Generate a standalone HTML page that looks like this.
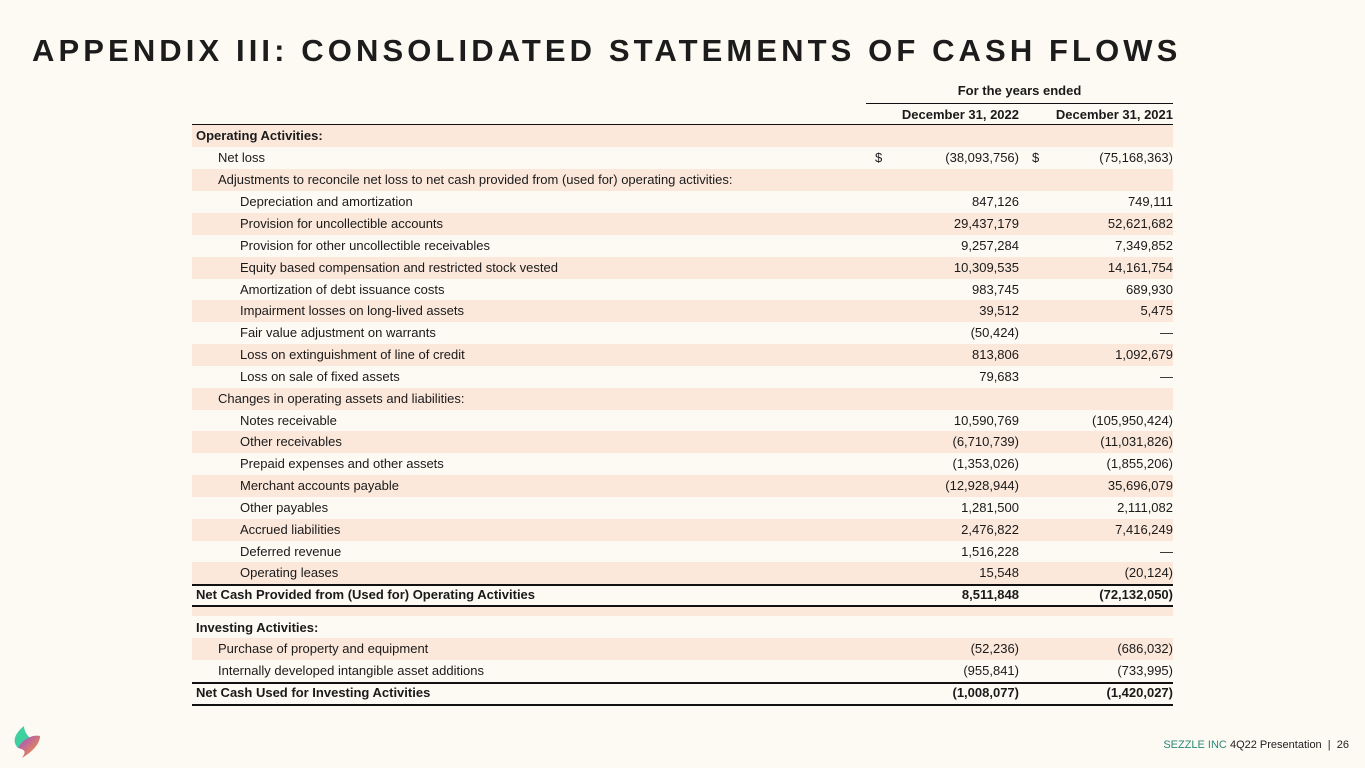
<!DOCTYPE html>
<html><head><meta charset="utf-8"><style>
*{margin:0;padding:0;box-sizing:border-box}
body{width:1365px;height:768px;background:#fdf9f3;font-family:"Liberation Sans",sans-serif;color:#1a1a1a;position:relative;overflow:hidden}
.title{position:absolute;left:32px;top:33px;font-size:31px;font-weight:bold;letter-spacing:4.1px;color:#1c1c1c;white-space:nowrap}
.r{position:absolute;left:192px;width:981px;height:22px;font-size:13px;line-height:22px}
.s{background:#fbe8db}
.r span{position:absolute;top:0}
.l{left:4px}.l1{left:26px}.l2{left:48px}
.a{right:154px}.b{right:0}
.d1{left:683px}.d2{left:840px}
.bold{font-weight:bold}
.line{position:absolute;height:1.5px;background:#111}
</style></head><body>
<div class="title">APPENDIX III: CONSOLIDATED STATEMENTS OF CASH FLOWS</div>
<div style="position:absolute;left:866px;top:83px;width:307px;text-align:center;font-size:13px;font-weight:bold">For the years ended</div>
<div class="line" style="left:866px;top:103px;width:307px;height:1px"></div>
<div style="position:absolute;left:866px;top:107px;width:153px;text-align:right;font-size:13px;font-weight:bold">December 31, 2022</div>
<div style="position:absolute;left:1025px;top:107px;width:148px;text-align:right;font-size:13px;font-weight:bold">December 31, 2021</div>
<div class="line" style="left:192px;top:124px;width:981px;height:1px"></div>

<div class="r s bold" style="top:125px"><span class="l">Operating Activities:</span></div>
<div class="r" style="top:147px"><span class="l1">Net loss</span><span class="d1">$</span><span class="a">(38,093,756)</span><span class="d2">$</span><span class="b">(75,168,363)</span></div>
<div class="r s" style="top:169px"><span class="l1">Adjustments to reconcile net loss to net cash provided from (used for) operating activities:</span></div>
<div class="r" style="top:191px"><span class="l2">Depreciation and amortization</span><span class="a">847,126</span><span class="b">749,111</span></div>
<div class="r s" style="top:213px"><span class="l2">Provision for uncollectible accounts</span><span class="a">29,437,179</span><span class="b">52,621,682</span></div>
<div class="r" style="top:235px"><span class="l2">Provision for other uncollectible receivables</span><span class="a">9,257,284</span><span class="b">7,349,852</span></div>
<div class="r s" style="top:257px"><span class="l2">Equity based compensation and restricted stock vested</span><span class="a">10,309,535</span><span class="b">14,161,754</span></div>
<div class="r" style="top:279px"><span class="l2">Amortization of debt issuance costs</span><span class="a">983,745</span><span class="b">689,930</span></div>
<div class="r s" style="top:300px"><span class="l2">Impairment losses on long-lived assets</span><span class="a">39,512</span><span class="b">5,475</span></div>
<div class="r" style="top:322px"><span class="l2">Fair value adjustment on warrants</span><span class="a">(50,424)</span><span class="b">—</span></div>
<div class="r s" style="top:344px"><span class="l2">Loss on extinguishment of line of credit</span><span class="a">813,806</span><span class="b">1,092,679</span></div>
<div class="r" style="top:366px"><span class="l2">Loss on sale of fixed assets</span><span class="a">79,683</span><span class="b">—</span></div>
<div class="r s" style="top:388px"><span class="l1">Changes in operating assets and liabilities:</span></div>
<div class="r" style="top:410px"><span class="l2">Notes receivable</span><span class="a">10,590,769</span><span class="b">(105,950,424)</span></div>
<div class="r s" style="top:431px"><span class="l2">Other receivables</span><span class="a">(6,710,739)</span><span class="b">(11,031,826)</span></div>
<div class="r" style="top:453px"><span class="l2">Prepaid expenses and other assets</span><span class="a">(1,353,026)</span><span class="b">(1,855,206)</span></div>
<div class="r s" style="top:475px"><span class="l2">Merchant accounts payable</span><span class="a">(12,928,944)</span><span class="b">35,696,079</span></div>
<div class="r" style="top:497px"><span class="l2">Other payables</span><span class="a">1,281,500</span><span class="b">2,111,082</span></div>
<div class="r s" style="top:519px"><span class="l2">Accrued liabilities</span><span class="a">2,476,822</span><span class="b">7,416,249</span></div>
<div class="r" style="top:541px"><span class="l2">Deferred revenue</span><span class="a">1,516,228</span><span class="b">—</span></div>
<div class="r s" style="top:562px"><span class="l2">Operating leases</span><span class="a">15,548</span><span class="b">(20,124)</span></div>
<div class="r bold" style="top:584px"><span class="l">Net Cash Provided from (Used for) Operating Activities</span><span class="a">8,511,848</span><span class="b">(72,132,050)</span></div>
<div class="line" style="left:192px;top:584px;width:981px"></div>
<div class="line" style="left:192px;top:605px;width:981px"></div>
<div class="r s" style="top:607px;height:9px"></div>
<div class="r bold" style="top:617px"><span class="l">Investing Activities:</span></div>
<div class="r s" style="top:638px"><span class="l1">Purchase of property and equipment</span><span class="a">(52,236)</span><span class="b">(686,032)</span></div>
<div class="r" style="top:660px"><span class="l1">Internally developed intangible asset additions</span><span class="a">(955,841)</span><span class="b">(733,995)</span></div>
<div class="r bold" style="top:682px"><span class="l">Net Cash Used for Investing Activities</span><span class="a">(1,008,077)</span><span class="b">(1,420,027)</span></div>
<div class="line" style="left:192px;top:682px;width:981px"></div>
<div class="line" style="left:192px;top:704px;width:981px"></div>

<svg style="position:absolute;left:10px;top:724px" width="34" height="36" viewBox="0 0 34 36">
<defs><linearGradient id="g" x1="0" y1="0" x2="1" y2="1"><stop offset="0" stop-color="#9b4fd6"/><stop offset="1" stop-color="#ff9a2a"/></linearGradient></defs>
<path d="M14 2 C4 10 2 18 8 24 L20 14 C16 10 14 6 14 2Z" fill="#3fd0a0"/>
<path d="M8 24 C12 16 22 10 30 12 C30 20 22 28 12 34 C16 28 16 26 8 24Z" fill="url(#g)"/>
</svg>
<div style="position:absolute;right:16px;top:739px;font-size:11px;color:#222;white-space:nowrap"><span style="color:#2a8a7a">SEZZLE INC</span> 4Q22 Presentation &nbsp;|&nbsp; 26</div>
</body></html>
